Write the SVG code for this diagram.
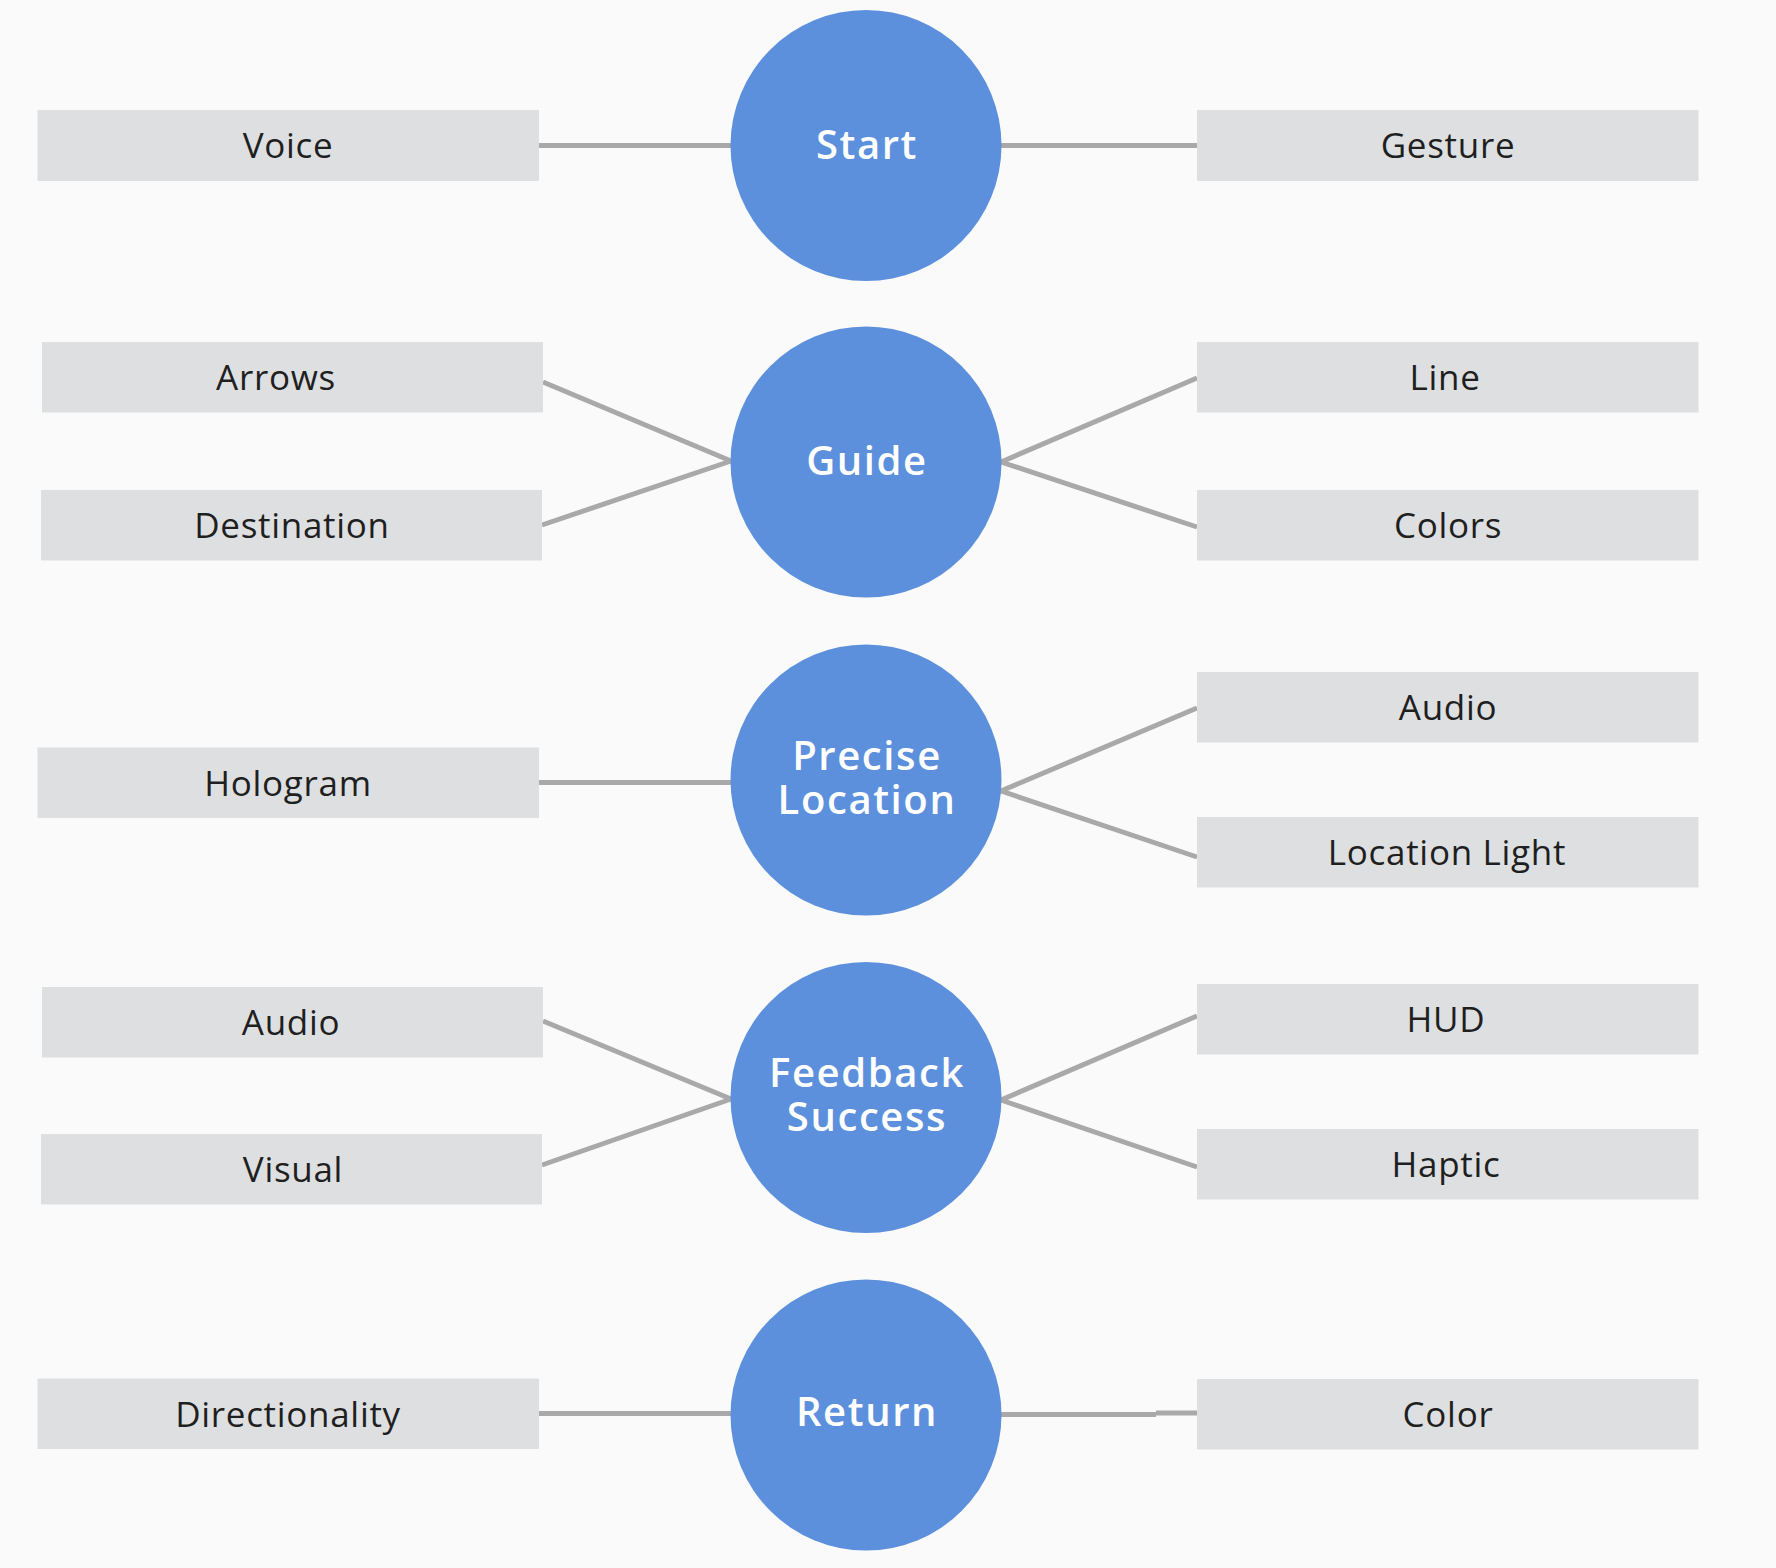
<svg xmlns="http://www.w3.org/2000/svg" width="1776" height="1568" viewBox="0 0 1776 1568">
<style>
.bg{fill:#fafafa}
.box{fill:#dedfe1}
.hub{fill:#5c90dc}
.lbl{font-family:"Open Sans","Liberation Sans",sans-serif;font-size:35px;fill:#1f1f1f;text-anchor:middle;letter-spacing:0.7px}
.hl{font-family:"Open Sans","Liberation Sans",sans-serif;font-size:40px;font-weight:600;fill:#ffffff;text-anchor:middle;letter-spacing:1.6px}
.ln{stroke:#a9a9a9;stroke-width:5;fill:none}
</style>
<rect class="bg" x="0" y="0" width="1776" height="1568"/>
<g id="connectors">
<line class="ln" x1="539" y1="145.5" x2="731" y2="145.5"/>
<line class="ln" x1="1001" y1="145.5" x2="1197" y2="145.5"/>
<line class="ln" x1="543" y1="382" x2="731" y2="461"/>
<line class="ln" x1="542" y1="525" x2="731" y2="461"/>
<line class="ln" x1="1001" y1="462" x2="1197" y2="378"/>
<line class="ln" x1="1001" y1="462" x2="1197" y2="527"/>
<line class="ln" x1="539" y1="782.5" x2="731" y2="782.5"/>
<line class="ln" x1="1001" y1="791" x2="1197" y2="708"/>
<line class="ln" x1="1001" y1="791" x2="1197" y2="857"/>
<line class="ln" x1="543" y1="1021" x2="731" y2="1099"/>
<line class="ln" x1="542" y1="1165" x2="731" y2="1099"/>
<line class="ln" x1="1001" y1="1100" x2="1197" y2="1016"/>
<line class="ln" x1="1001" y1="1100" x2="1197" y2="1167"/>
<line class="ln" x1="539" y1="1413.5" x2="731" y2="1413.5"/>
<line class="ln" x1="1001" y1="1414.5" x2="1156" y2="1414.5"/>
<line class="ln" x1="1156" y1="1413" x2="1197" y2="1413"/>
</g>
<g id="start"><circle class="hub" cx="866" cy="145.5" r="135.5"/><text class="hl" x="867" y="158.5">Start</text></g>
<g id="guide"><circle class="hub" cx="866" cy="462" r="135.5"/><text class="hl" x="867" y="474.5">Guide</text></g>
<g id="precise-location"><circle class="hub" cx="866" cy="780" r="135.5"/><text class="hl" x="867" y="769.5">Precise<tspan x="867" dy="44">Location</tspan></text></g>
<g id="feedback-success"><circle class="hub" cx="866" cy="1097.5" r="135.5"/><text class="hl" x="867" y="1086.5">Feedback<tspan x="867" dy="44">Success</tspan></text></g>
<g id="return"><circle class="hub" cx="866" cy="1415" r="135.5"/><text class="hl" x="867" y="1426">Return</text></g>
<g id="voice"><rect class="box" x="37.5" y="110" width="501.5" height="71"/><text class="lbl" x="288" y="158">Voice</text></g>
<g id="gesture"><rect class="box" x="1197" y="110" width="501.5" height="71"/><text class="lbl" x="1448" y="158">Gesture</text></g>
<g id="arrows"><rect class="box" x="42" y="342" width="501" height="70.5"/><text class="lbl" x="276" y="390">Arrows</text></g>
<g id="destination"><rect class="box" x="41" y="490" width="501" height="70.5"/><text class="lbl" x="292" y="538">Destination</text></g>
<g id="line"><rect class="box" x="1197" y="342" width="501.5" height="70.5"/><text class="lbl" x="1445" y="390">Line</text></g>
<g id="colors"><rect class="box" x="1197" y="490" width="501.5" height="70.5"/><text class="lbl" x="1448" y="538">Colors</text></g>
<g id="hologram"><rect class="box" x="37.5" y="747.5" width="501.5" height="70.5"/><text class="lbl" x="288" y="795.5">Hologram</text></g>
<g id="audio-right"><rect class="box" x="1197" y="672" width="501.5" height="70.5"/><text class="lbl" x="1448" y="720">Audio</text></g>
<g id="location-light"><rect class="box" x="1197" y="817" width="501.5" height="70.5"/><text class="lbl" x="1447" y="865">Location Light</text></g>
<g id="audio-left"><rect class="box" x="42" y="987" width="501" height="70.5"/><text class="lbl" x="291" y="1035">Audio</text></g>
<g id="visual"><rect class="box" x="41" y="1134" width="501" height="70.5"/><text class="lbl" x="293" y="1182">Visual</text></g>
<g id="hud"><rect class="box" x="1197" y="984" width="501.5" height="70.5"/><text class="lbl" x="1446" y="1032">HUD</text></g>
<g id="haptic"><rect class="box" x="1197" y="1129" width="501.5" height="70.5"/><text class="lbl" x="1446" y="1177">Haptic</text></g>
<g id="directionality"><rect class="box" x="37.5" y="1378.5" width="501.5" height="70.5"/><text class="lbl" x="288" y="1426.5">Directionality</text></g>
<g id="color"><rect class="box" x="1197" y="1379" width="501.5" height="70.5"/><text class="lbl" x="1448" y="1427">Color</text></g>
</svg>
